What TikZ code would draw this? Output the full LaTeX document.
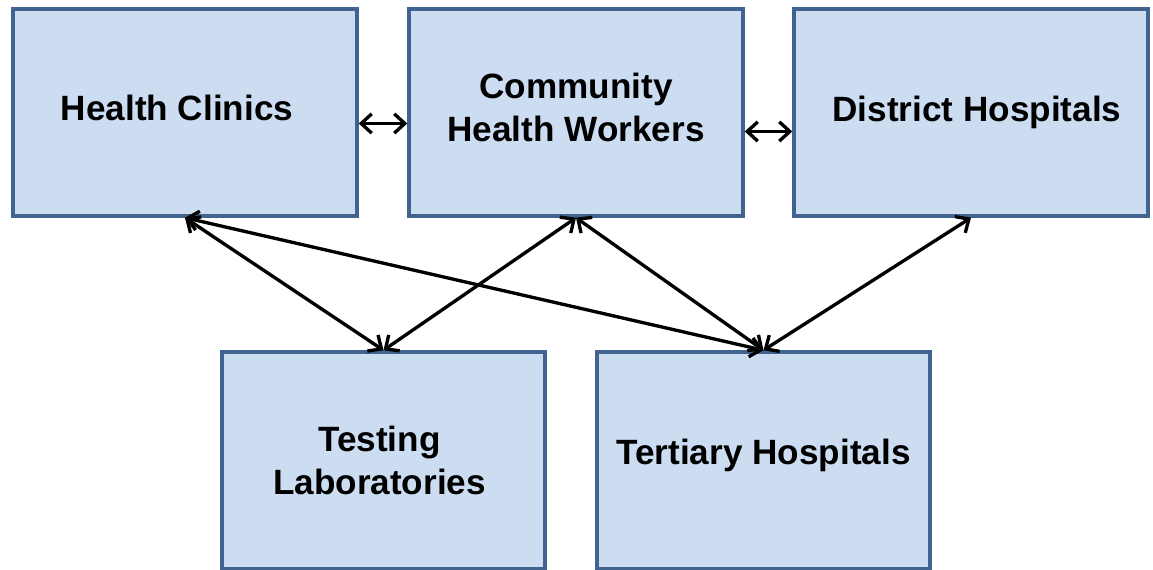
\documentclass[tikz,border=0pt]{standalone}
\usepackage{fontspec}
\setmainfont{Liberation Sans}
\usetikzlibrary{arrows.meta}
\definecolor{boxfill}{HTML}{CCDDF2}
\definecolor{boxline}{HTML}{41638F}
\tikzset{
  box_/.style  = {shape=rectangle, draw=boxline, fill=boxfill, line width=2pt, inner sep=0pt},
  text_/.style = {align=center, font=\bfseries\fontsize{20}{24}\selectfont},
  link_/.style = {draw, line width=1.9pt, {Straight Barb[length=6pt,width=11pt]}-{Straight Barb[length=6pt,width=11pt]}}
}

\begin{document}
\begin{tikzpicture}
  [
    x = 0.02cm, y = -0.02cm
  ]
  \useasboundingbox (0,0) rectangle (1153,570);
  % top row
  \node [box_, minimum width=6.88cm, minimum height=4.14cm] (hc)  at (185,112.5) {};
  \node [box_, minimum width=6.68cm, minimum height=4.14cm] (chw) at (576,112.5) {};
  \node [box_, minimum width=7.08cm, minimum height=4.14cm] (dh)  at (971,112.5) {};
  % bottom row
  \node [box_, minimum width=6.46cm, minimum height=4.34cm] (tl)  at (383.5,460.5) {};
  \node [box_, minimum width=6.66cm, minimum height=4.34cm] (th)  at (763.5,460.5) {};
  % texts
  \node [text_] (hct)  at ([shift={(-8,-5)}]hc.center) {Health Clinics};
  \node [text_] (chwt) at ([shift={(0,-5)}]chw.center) {Community\\Health Workers};
  \node [text_] (dht)  at ([shift={(6,0)}]dh.center)   {District Hospitals};
  \node [text_] (tlt)  at ([shift={(-4,0)}]tl.center)  {Testing\\Laboratories};
  \node [text_] (tht)  at ([shift={(0,-5)}]th.center)  {Tertiary Hospitals};
  % links
  \draw [link_] ([yshift=-0.22cm]hc.east) -- ([yshift=-0.22cm]chw.west);
  \draw [link_] ([yshift=-0.38cm]chw.east) -- ([yshift=-0.38cm]dh.west);
  \draw [link_] (hc.south) -- (tl.north);
  \draw [link_] (chw.south) -- (tl.north);
  \draw [link_] (hc.south) -- (th.north);
  \draw [link_] (chw.south) -- (th.north);
  \draw [link_] (dh.south) -- (th.north);
\end{tikzpicture}
\end{document}
